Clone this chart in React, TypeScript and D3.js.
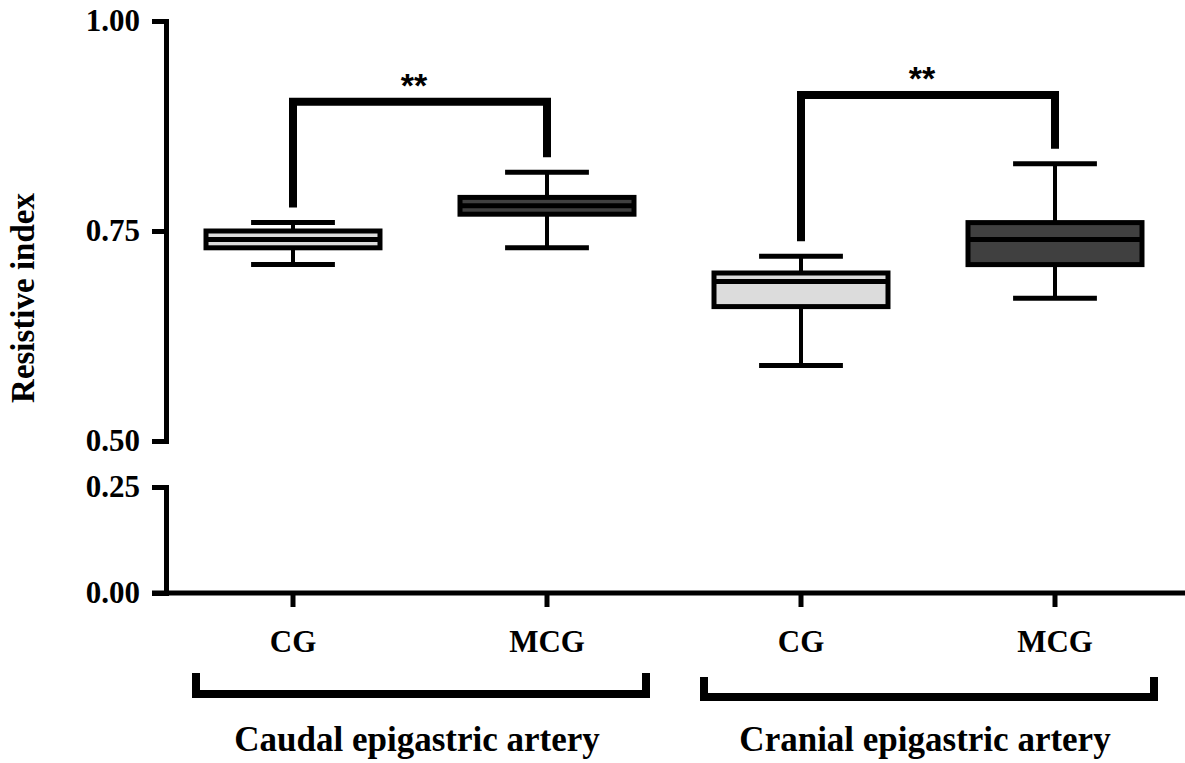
import React, { useEffect, useRef } from 'react';
import * as d3 from 'd3';

// categories along the x axis, two groups of two
const categories = ['CG', 'MCG', 'CG', 'MCG'];
const groups = ['Caudal epigastric artery', 'Cranial epigastric artery'];

// box plot statistics per category
const whiskerLow = [0.71, 0.73, 0.59, 0.67];
const q1 = [0.73, 0.77, 0.66, 0.71];
const median = [0.74, 0.78, 0.69, 0.74];
const q3 = [0.75, 0.79, 0.7, 0.76];
const whiskerHigh = [0.76, 0.82, 0.72, 0.83];

// significance brackets
const sigPairs = [[0, 1], [2, 3]];
const sigLevel = [0.904, 0.912];
const sigLabel = ['**', '**'];

// axis ticks (broken y axis)
const upperTicks = [0.5, 0.75, 1.0];
const lowerTicks = [0, 0.25];

const serif = '"Liberation Serif", "Times New Roman", serif';

const App = () => {
  const ref = useRef<SVGSVGElement>(null);

  useEffect(() => {
    const width = 1185;
    const height = 763;
    const svg = d3.select(ref.current);
    svg.selectAll('*').remove();
    svg.attr('width', width).attr('height', height).style('background', '#fff');

    const axisX = 166;
    const xAxisY = 593;

    const yUpper = d3.scaleLinear().domain([0.5, 1]).range([441, 21]);
    const yLower = d3.scaleLinear().domain([0, 0.25]).range([xAxisY, 487]);
    const y = (v: number) => (v >= 0.5 ? yUpper(v) : yLower(v));

    const x = d3.scaleBand<number>()
      .domain(d3.range(categories.length))
      .range([axisX, 1182])
      .padding(0);
    const bw = x.bandwidth();
    const cx = (i: number) => (x(i) as number) + bw / 2;

    const fill = d3.scaleOrdinal<string, string>()
      .domain(['CG', 'MCG'])
      .range(['#dcdcdc', '#404040']);

    // Y axis, two segments
    const styleAxis = (g: any) => {
      g.select('.domain').attr('stroke-width', 5).attr('stroke-linecap', 'square');
      g.selectAll('.tick line').attr('stroke-width', 5);
      g.selectAll('.tick text')
        .style('font-family', serif)
        .style('font-weight', 'bold')
        .style('font-size', '31px')
        .attr('fill', '#000');
    };

    svg.append('g')
      .attr('transform', `translate(${axisX},0)`)
      .call(d3.axisLeft(yUpper).tickValues(upperTicks).tickSize(14).tickSizeOuter(0)
        .tickPadding(12).tickFormat(d3.format('.2f')))
      .call(styleAxis);

    svg.append('g')
      .attr('transform', `translate(${axisX},0)`)
      .call(d3.axisLeft(yLower).tickValues(lowerTicks).tickSize(14).tickSizeOuter(0)
        .tickPadding(12).tickFormat(d3.format('.2f')))
      .call(styleAxis);

    // X axis
    const xg = svg.append('g')
      .attr('transform', `translate(0,${xAxisY})`)
      .call(d3.axisBottom(x).tickSize(14).tickSizeOuter(0).tickPadding(23)
        .tickFormat(i => categories[i as number]));
    xg.select('.domain').remove();
    xg.selectAll('.tick line').attr('stroke-width', 5);
    xg.selectAll('.tick text')
      .style('font-family', serif)
      .style('font-weight', 'bold')
      .style('font-size', '31px')
      .attr('fill', '#000');
    svg.append('line')
      .attr('x1', axisX - 14).attr('x2', width)
      .attr('y1', xAxisY).attr('y2', xAxisY)
      .attr('stroke', '#000').attr('stroke-width', 5);

    // Y title
    svg.append('text')
      .attr('transform', 'translate(34,298) rotate(-90)')
      .attr('text-anchor', 'middle')
      .style('font-family', serif)
      .style('font-weight', 'bold')
      .style('font-size', '33px')
      .text('Resistive index');

    // Boxes
    const boxW = bw * 0.685;
    const capW = bw * 0.33;
    const boxes = svg.append('g');
    categories.forEach((c, i) => {
      const g = boxes.append('g');
      g.append('line')
        .attr('x1', cx(i)).attr('x2', cx(i))
        .attr('y1', y(whiskerLow[i])).attr('y2', y(whiskerHigh[i]))
        .attr('stroke', '#000').attr('stroke-width', 4);
      [whiskerLow[i], whiskerHigh[i]].forEach(v => {
        g.append('line')
          .attr('x1', cx(i) - capW / 2).attr('x2', cx(i) + capW / 2)
          .attr('y1', y(v)).attr('y2', y(v))
          .attr('stroke', '#000').attr('stroke-width', 5);
      });
      g.append('rect')
        .attr('x', cx(i) - boxW / 2)
        .attr('y', y(q3[i]))
        .attr('width', boxW)
        .attr('height', y(q1[i]) - y(q3[i]))
        .attr('fill', fill(c))
        .attr('stroke', '#000').attr('stroke-width', 5);
      g.append('line')
        .attr('x1', cx(i) - boxW / 2).attr('x2', cx(i) + boxW / 2)
        .attr('y1', y(median[i])).attr('y2', y(median[i]))
        .attr('stroke', '#000').attr('stroke-width', 5);
    });

    // Significance brackets
    sigPairs.forEach(([a, b], k) => {
      const yh = y(sigLevel[k]);
      svg.append('path')
        .attr('d', `M${cx(a)},${y(whiskerHigh[a]) - 15}V${yh}H${cx(b)}V${y(whiskerHigh[b]) - 15}`)
        .attr('fill', 'none')
        .attr('stroke', '#000')
        .attr('stroke-width', 8)
        .attr('stroke-linejoin', 'miter');
      svg.append('text')
        .attr('x', (cx(a) + cx(b)) / 2 - 6)
        .attr('y', yh - 5)
        .attr('text-anchor', 'middle')
        .style('font-family', '"Liberation Sans", Arial, sans-serif')
        .style('font-weight', 'bold')
        .style('font-size', '34px')
        .text(sigLabel[k]);
    });

    // Group brackets and labels
    const groupTop = [673, 677];
    const groupBottom = [694, 697];
    groups.forEach((name, k) => {
      const a = k * 2;
      const b = k * 2 + 1;
      const left = (x(a) as number) + 30;
      const right = (x(b) as number) + bw - 28;
      svg.append('path')
        .attr('d', `M${left},${groupTop[k]}V${groupBottom[k]}H${right}V${groupTop[k]}`)
        .attr('fill', 'none')
        .attr('stroke', '#000')
        .attr('stroke-width', 8)
        .attr('stroke-linejoin', 'miter');
      svg.append('text')
        .attr('x', (cx(a) + cx(b)) / 2 - 3)
        .attr('y', 751)
        .attr('text-anchor', 'middle')
        .style('font-family', serif)
        .style('font-weight', 'bold')
        .style('font-size', '35px')
        .text(name);
    });
  }, []);

  return (
    <svg ref={ref} style={{ position: 'absolute', left: 0, top: 0 }}></svg>
  );
};

export default App;
